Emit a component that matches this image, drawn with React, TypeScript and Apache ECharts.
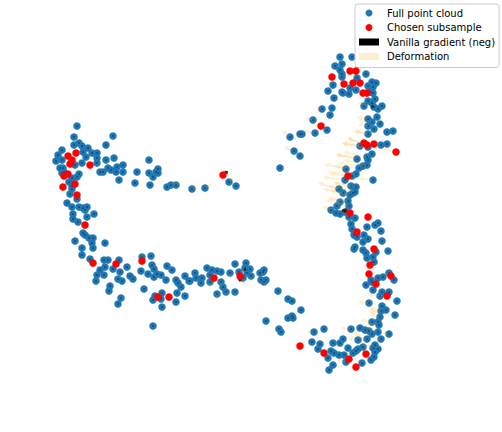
import React, { useEffect, useRef } from "react";
import * as echarts from "echarts";

// The hidden axes span the picture's own extent.
const xExtent = [0, 502];
const yExtent = [0, 432];

const fullCloud: number[][] = [
  // left arc
  [77,126],[113,136],[74,137],[106,145],[74,145],[79,143],[82,146],[88,148],[62,150],[83,152],[58,155],[92,153],[97,153],
  [56,161],[62,160],[86,157],[97,158],[106,160],[114,158],[149,160],[82,163],[97,163],[75,165],[60,168],[63,168],[123,165],
  [108,168],[117,167],[100,172],[103,172],[111,170],[116,172],[123,172],[137,172],[149,173],[158,169],[156,172],[158,173],
  [153,177],[119,180],[135,183],[150,185],[167,187],[171,185],[176,185],[192,189],[205,188],[229,182],[236,186],
  [79,174],[77,177],[62,173],[64,172],[72,178],[69,182],[72,186],[72,189],[70,194],[77,199],[67,203],[72,207],[79,207],
  [83,208],[87,207],[85,210],[73,214],[94,214],[73,219],[87,217],[78,222],
  // lower-left band
  [83,233],[85,235],[89,238],[93,238],[92,243],[105,243],[75,241],[93,248],[82,248],[82,255],[90,259],[104,260],[108,260],
  [119,260],[142,257],[151,256],[105,267],[100,270],[113,269],[127,267],[120,272],[152,265],[154,269],[167,266],[172,270],
  [141,271],[148,274],[157,274],[161,275],[154,277],[97,275],[104,275],[96,281],[130,276],[133,279],[118,279],[122,281],
  [166,280],[176,280],[178,283],[185,276],[189,281],[195,273],[196,278],[181,287],[110,286],[109,291],[144,289],[177,293],
  [162,293],[185,296],[155,296],[153,300],[161,299],[121,298],[176,302],[118,304],[162,307],[153,326],
  // lower-middle band
  [190,281],[202,278],[201,283],[207,268],[212,270],[217,271],[210,275],[221,272],[210,282],[221,282],[223,287],[226,292],
  [217,294],[235,292],[230,273],[235,264],[239,272],[246,263],[245,268],[250,269],[247,273],[251,276],[243,278],[260,273],
  [264,270],[263,272],[261,280],[266,280],[264,282],[278,291],[288,299],[292,301],[301,310],[288,318],[292,316],[293,318],
  [266,321],[279,329],[281,332],
  // upper-right arc
  [340,57],[352,57],[335,66],[342,64],[340,70],[342,74],[342,77],[366,74],[357,78],[333,85],[372,82],[376,83],[368,86],
  [373,87],[328,91],[342,92],[343,93],[349,94],[356,90],[350,88],[371,92],[373,93],[334,98],[375,99],[368,101],[372,103],
  [382,106],[364,106],[374,107],[378,109],[332,108],[322,109],[330,115],[377,117],[368,119],[372,122],[313,120],[380,124],
  [368,126],[374,129],[327,130],[315,133],[393,131],[387,132],[302,134],[300,134],[368,134],[360,146],[368,147],[381,145],
  [387,144],[290,137],[294,151],[300,156],[280,168],
  // right arc, middle
  [372,154],[367,157],[357,159],[368,160],[367,165],[363,166],[359,168],[346,169],[356,174],[352,176],[345,180],[373,180],
  [351,186],[356,187],[355,192],[339,189],[343,193],[350,195],[353,193],[348,201],[340,202],[337,206],[349,206],[331,210],
  [336,213],[340,214],[345,212],[349,217],[351,224],[355,218],[352,229],[354,235],[357,237],[367,227],[378,223],[375,225],
  [381,231],[364,235],[368,239],[382,241],[363,242],[355,247],[354,249],[363,250],[366,253],[367,258],[376,252],[373,257],
  [388,251],[374,262],[383,277],[378,278],[389,273],[394,280],[371,280],[372,282],[366,285],[373,290],[382,292],[380,296],
  [389,292],[397,301],
  // right arc, bottom
  [369,303],[382,306],[386,310],[381,311],[395,315],[380,317],[372,322],[378,322],[379,325],[378,332],[360,328],[365,330],
  [369,331],[372,334],[351,329],[324,329],[314,332],[389,334],[367,339],[381,339],[358,340],[343,339],[340,343],[333,343],
  [312,342],[320,344],[318,349],[348,348],[363,347],[358,349],[375,345],[373,348],[378,349],[331,351],[334,353],[339,355],
  [344,355],[353,353],[356,351],[375,352],[374,357],[371,360],[328,358],[346,362],[362,363],[333,365],[329,370],
];

const subsample: number[][] = [
  [68,156],[76,153],[72,160],[70,164],[90,165],[68,174],[64,176],[75,184],[63,187],[77,195],[85,225],
  [93,263],[116,264],[142,261],[158,297],[169,297],[214,278],[240,276],[223,175],
  [332,77],[350,71],[356,71],[344,84],[353,83],[360,83],[363,93],[367,93],[321,126],[364,143],[367,145],[374,144],[396,152],
  [348,176],[350,213],[368,217],[357,232],[374,249],[370,265],[369,274],[391,276],[376,284],[387,296],
  [300,346],[324,353],[349,359],[366,354],[356,367],
];

// [tailX, tailY, headX, headY]
const gradientArrows: number[][] = [
  [223,175,228,171],[240,276,240,282],[350,213,343,209],[374,107,371,106],[245,268,245,271],[345,212,342,210],
];

const deformationArrows: number[][] = [
  [362,143,347,138],[360,146,342,143],[367,134,355,131],[294,151,284,147],[290,137,282,131],[316,133,303,131],
  [357,159,336,154],[367,157,343,152],[363,166,338,163],[346,169,324,164],[356,174,327,172],[345,180,323,177],
  [351,186,333,182],[339,189,318,183],[343,193,323,189],[348,201,328,198],[337,210,322,207],[373,180,358,178],
  [322,109,317,107],[313,120,306,118],[321,126,310,123],[368,106,357,103],[368,119,357,117],[368,126,358,124],
  [368,134,354,131],[363,147,342,143],[367,145,347,138],[357,158,336,155],[395,152,383,148],
  [359,168,334,166],[352,176,330,174],[356,187,334,184],[350,195,330,191],[340,202,326,200],[367,165,344,160],
  [352,191,328,186],[349,206,334,202],[372,122,358,120],
  [369,303,358,302],[382,309,368,308],[387,296,367,295],[381,312,370,313],[381,311,368,311],[380,317,370,315],
  [372,322,360,320],[351,329,340,328],[358,340,348,338],[314,332,307,332],[367,339,355,335],[381,339,372,338],
  [346,362,337,360],[389,334,383,333],[378,322,366,326],[365,330,352,334],[373,348,362,344],[378,332,368,328],
  [210,282,210,288],[230,273,230,279],[247,273,247,279],[251,276,252,282],[264,282,265,287],[226,292,226,297],
  [217,294,217,299],[235,292,235,297],[243,278,244,285],[221,282,222,286],
  [192,189,197,185],[205,188,212,184],[229,182,233,178],[171,185,175,182],[176,185,179,182],
];

const seriesNames = ["Full point cloud", "Chosen subsample", "Vanilla gradient (neg)", "Deformation"];
const blue = "#1f77b4";
const red = "#ff0000";
const black = "#000000";
const deformationColor = "rgba(255,165,0,0.18)";

function wedge(params: any, api: any) {
  const a = api.coord([api.value(0), api.value(1)]);
  const b = api.coord([api.value(2), api.value(3)]);
  const dx = b[0] - a[0];
  const dy = b[1] - a[1];
  const len = Math.hypot(dx, dy) || 1;
  const ux = dx / len;
  const uy = dy / len;
  const nx = -uy;
  const ny = ux;
  const at = (t: number, w: number) => [a[0] + ux * t + nx * w, a[1] + uy * t + ny * w];
  const neck = Math.max(len - 5, len * 0.55);
  return {
    type: "polygon",
    shape: {
      points: [
        at(0, 0.4), at(neck, 1), at(neck, 2.6), at(len, 0),
        at(neck, -2.6), at(neck, -1), at(0, -0.4),
      ],
    },
    style: { fill: api.visual("color") },
  };
}

export default function App() {
  const ref = useRef<HTMLDivElement>(null);
  useEffect(() => {
    document.body.style.margin = "0";
    const chart = echarts.init(ref.current!, null, { renderer: "svg" });
    chart.setOption({
      animation: false,
      backgroundColor: "#ffffff",
      grid: { left: 0, right: 0, top: 0, bottom: 0 },
      xAxis: { type: "value", min: xExtent[0], max: xExtent[1], show: false },
      yAxis: { type: "value", min: yExtent[0], max: yExtent[1], inverse: true, show: false },
      legend: {
        left: 355,
        top: 4,
        orient: "vertical",
        selectedMode: false,
        padding: [4, 4, 6, 4],
        itemWidth: 20,
        itemHeight: 7,
        itemGap: 4.5,
        backgroundColor: "rgba(255,255,255,0.8)",
        borderColor: "#cccccc",
        borderWidth: 1,
        borderRadius: 3,
        textStyle: {
          fontFamily: "DejaVu Sans", fontSize: 10, lineHeight: 10, color: "#000000",
          padding: [0, 0, 0, 3],
        },
        data: [
          { name: seriesNames[0], icon: "circle", itemStyle: { color: blue, opacity: 1 } },
          { name: seriesNames[1], icon: "circle", itemStyle: { color: red, opacity: 1 } },
          { name: seriesNames[2], icon: "rect", itemStyle: { color: black, opacity: 1 } },
          { name: seriesNames[3], icon: "rect", itemStyle: { color: deformationColor, opacity: 1 } },
        ],
      },
      series: [
        {
          name: seriesNames[0], type: "scatter", data: fullCloud, symbolSize: 7.5,
          itemStyle: { color: blue, opacity: 1 }, z: 2, silent: true,
        },
        {
          name: seriesNames[2], type: "scatter", data: fullCloud, symbolSize: 1.4,
          itemStyle: { color: black, opacity: 0.75 }, z: 3, silent: true,
        },
        {
          name: seriesNames[2], type: "custom", data: gradientArrows, renderItem: wedge,
          encode: { x: [0, 2], y: [1, 3] }, itemStyle: { color: "#3a2410" }, z: 3, silent: true,
        },
        {
          name: seriesNames[3], type: "custom", data: deformationArrows, renderItem: wedge,
          encode: { x: [0, 2], y: [1, 3] }, itemStyle: { color: deformationColor }, z: 4, silent: true,
        },
        {
          name: seriesNames[1], type: "scatter", data: subsample, symbolSize: 7.5,
          itemStyle: { color: red, opacity: 1 }, z: 5, silent: true,
        },
      ],
    });
    return () => chart.dispose();
  }, []);
  return <div ref={ref} style={{ width: 502, height: 432 }} />;
}
